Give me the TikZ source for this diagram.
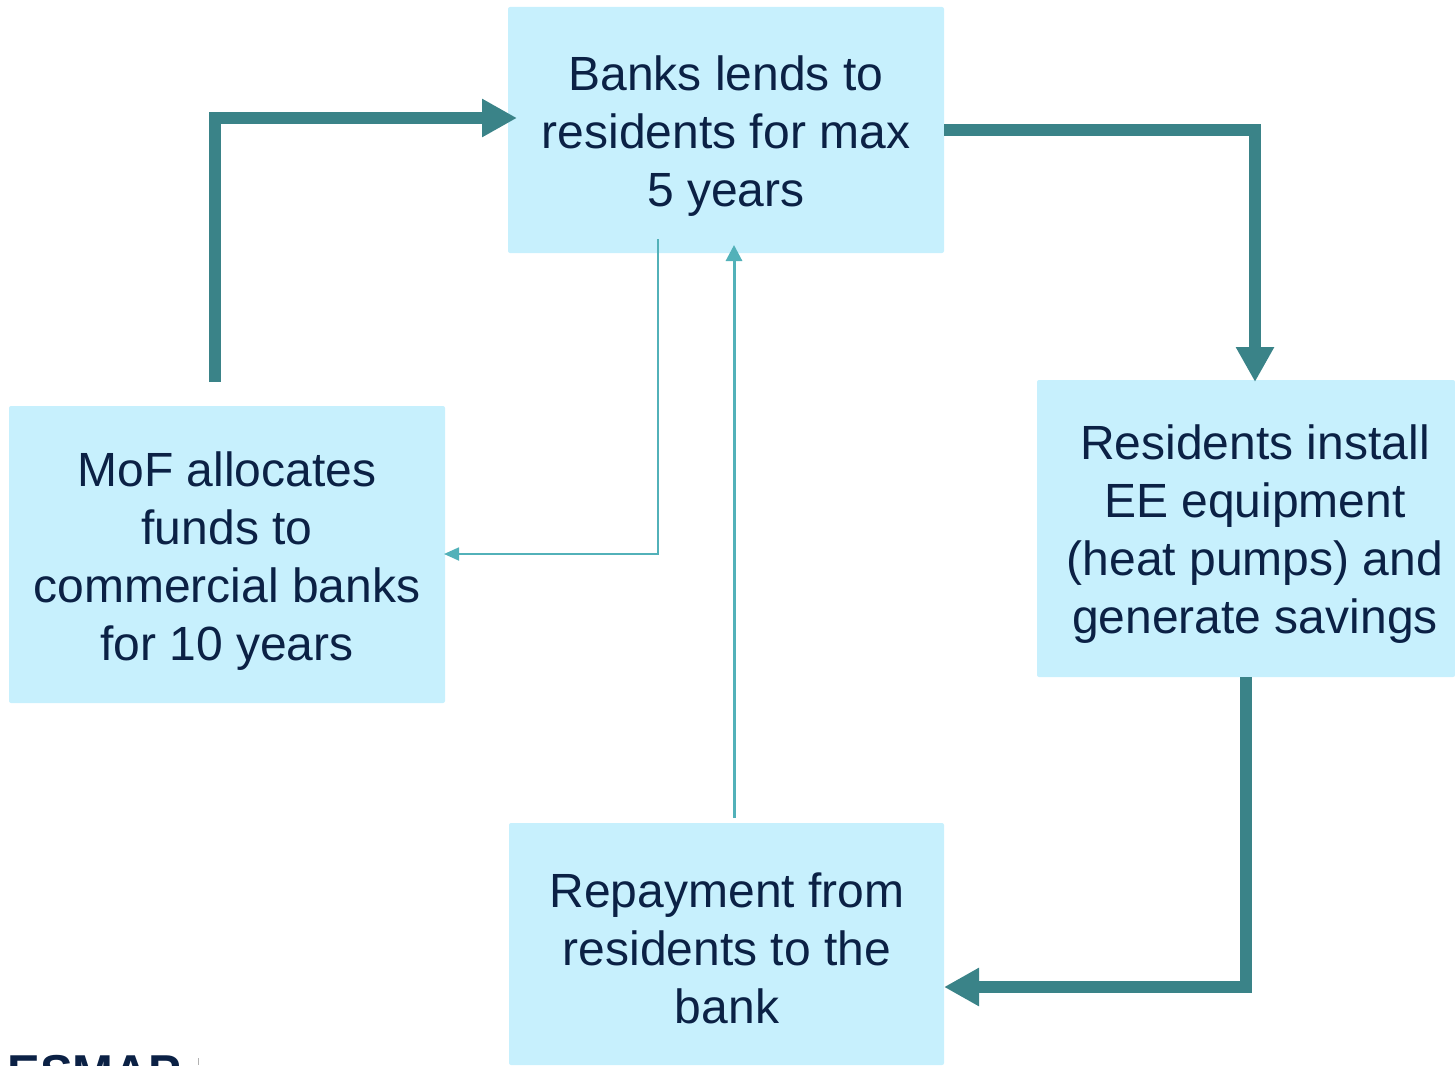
\documentclass[tikz,border=0pt]{standalone}
\usepackage{fontspec}
\setmainfont{Liberation Sans}
\usetikzlibrary{arrows.meta}
\definecolor{boxfill}{HTML}{C7F0FD}
\definecolor{thickc}{HTML}{3A8388}
\definecolor{thinc}{HTML}{52B1B9}
\definecolor{txtc}{HTML}{0B2145}
\tikzset{
  stepbox/.style={fill=boxfill, draw=none, rounded corners=1pt, inner sep=0pt},
  steptext/.style={inner sep=0pt, align=center, text=txtc,
    font=\fontsize{24}{29}\selectfont},
  bigarrow/.style={draw=thickc, line width=6pt, line join=miter,
    -{Triangle[length=17.5pt,width=18pt]}},
  thinarrow/.style={draw=thinc, line width=0.9pt,
    -{Triangle[length=7.5pt,width=6.5pt]}},
  midarrow/.style={draw=thinc, line width=1.5pt,
    -{Triangle[length=8pt,width=8pt]}}
}
\begin{document}
\begin{tikzpicture}[x=0.5pt,y=-0.5pt]
\useasboundingbox (0,0) rectangle (1455,1065);
% boxes
\node[stepbox, minimum width=218pt, minimum height=123pt] (banks) at (726,130) {};
\node[stepbox, minimum width=218pt, minimum height=148.5pt] (mof) at (227,554.5) {};
\node[stepbox, minimum width=209pt, minimum height=148.5pt] (res) at (1246,528.5) {};
\node[stepbox, minimum width=217.5pt, minimum height=121pt] (repay) at (726.5,944) {};
% texts
\node[steptext] (banksT) at (726,136) {Banks lends to\\residents for max\\5 years};
\node[steptext] (mofT) at (227,561.5) {MoF allocates\\funds to\\commercial banks\\for 10 years};
\node[steptext] (resT) at (1255,534.5) {Residents install\\EE equipment\\(heat pumps) and\\generate savings};
\node[steptext] (repayT) at (727,948) {Repayment from\\residents to the\\bank};
% connector end points
\coordinate (a1s) at (215,382);
\coordinate (a1e) at (517,118);
\coordinate (a2s) at (944,130);
\coordinate (a2e) at (1255,382);
\coordinate (a3s) at (1246,677);
\coordinate (a3e) at (944,987);
\coordinate (t1s) at (658,239);
\coordinate (t1e) at (444,554);
\coordinate (t2s) at (734,818);
\coordinate (t2e) at (734,245);
\draw[bigarrow] (a1s) |- (a1e);
\draw[bigarrow] (a2s) -| (a2e);
\draw[bigarrow] (a3s) |- (a3e);
\draw[thinarrow] (t1s) |- (t1e);
\draw[midarrow] (t2s) -- (t2e);
% cut-off logo at the bottom edge
\node[anchor=north west, inner sep=0pt, text=txtc, font=\fontsize{24.5}{29}\selectfont\bfseries] (logo) at (7,1055) {ESMAP};
\draw[gray!60, line width=0.5pt] (198,1058) -- (198,1065);
\end{tikzpicture}
\end{document}
